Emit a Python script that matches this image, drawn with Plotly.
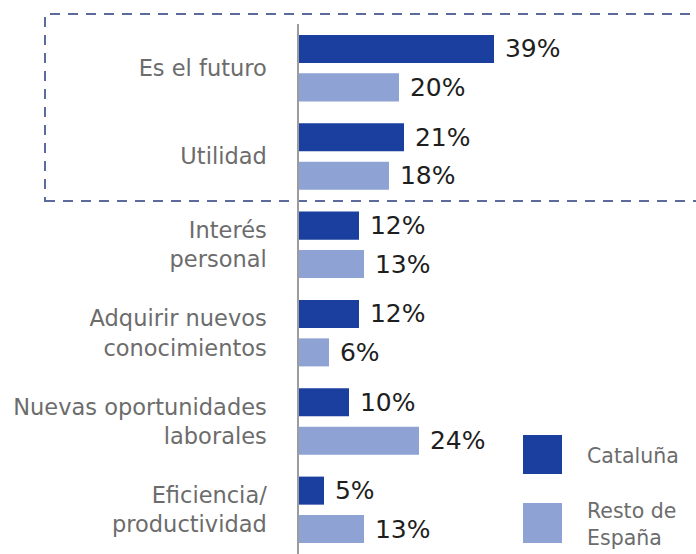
import plotly.graph_objects as go

# Survey reasons, grouped by region
categories = [
    "Es el futuro",
    "Utilidad",
    "Interés<br>personal",
    "Adquirir nuevos<br>conocimientos",
    "Nuevas oportunidades<br>laborales",
    "Eficiencia/<br>productividad",
]
cataluna = [39, 21, 12, 12, 10, 5]
resto_espana = [20, 18, 13, 6, 24, 13]
series_names = ["Cataluña", "Resto de<br>España"]

DARK = "#1b3f9f"
LIGHT = "#8ea2d4"
LABEL_GREY = "#6c6c6c"
VALUE_BLACK = "#1e1e1e"
BOX_COLOR = "#5c6b9c"
FONT = "DejaVu Sans"

W, H = 696, 554
ML, MT, MR, MB = 299, 24, 0, 0


def px_x(px):
    return (px - ML) / (W - ML - MR)


def px_y(py):
    return (H - MB - py) / (H - MT - MB)


fig = go.Figure()
for name, vals, color in [(series_names[0], cataluna, DARK),
                          (series_names[1], resto_espana, LIGHT)]:
    fig.add_trace(go.Bar(
        y=categories,
        x=vals,
        orientation="h",
        name=name,
        marker=dict(color=color, line=dict(width=0)),
        text=[f"\u00a0{v}%" for v in vals],
        textposition="outside",
        constraintext="none",
        cliponaxis=False,
        textfont=dict(family=FONT, size=25, color=VALUE_BLACK),
        showlegend=False,
        hoverinfo="skip",
    ))

shapes = [
    # dashed highlight around the first two reasons
    dict(type="rect", xref="paper", yref="paper",
         x0=px_x(45), x1=px_x(706), y0=px_y(201), y1=px_y(14),
         line=dict(color=BOX_COLOR, width=2, dash="10px,8px"),
         fillcolor="rgba(0,0,0,0)", layer="below"),
    # legend swatches
    dict(type="rect", xref="paper", yref="paper",
         x0=px_x(523), x1=px_x(562), y0=px_y(474), y1=px_y(435),
         fillcolor=DARK, line=dict(width=0)),
    dict(type="rect", xref="paper", yref="paper",
         x0=px_x(523), x1=px_x(562), y0=px_y(543), y1=px_y(503),
         fillcolor=LIGHT, line=dict(width=0)),
]

annotations = [
    dict(text=series_names[0], xref="paper", yref="paper",
         x=px_x(585), y=px_y(456), xanchor="left", yanchor="middle",
         showarrow=False, align="left",
         font=dict(family=FONT, size=20.5, color=LABEL_GREY)),
    dict(text=series_names[1], xref="paper", yref="paper",
         x=px_x(585), y=px_y(524), xanchor="left", yanchor="middle",
         showarrow=False, align="left",
         font=dict(family=FONT, size=20.5, color=LABEL_GREY)),
]

fig.update_layout(
    width=W, height=H,
    margin=dict(l=ML, r=MR, t=MT, b=MB, pad=0),
    paper_bgcolor="white",
    plot_bgcolor="white",
    barmode="group",
    bargap=0.13,
    bargroupgap=0.27,
    showlegend=False,
    shapes=shapes,
    annotations=annotations,
    xaxis=dict(range=[0, 79.4], visible=False, fixedrange=True),
    yaxis=dict(
        autorange="reversed",
        showline=True, linecolor="#9c9c9c", linewidth=1.5,
        showgrid=False, zeroline=False, ticks="",
        ticklabelstandoff=26,
        tickfont=dict(family=FONT, size=22.5, color=LABEL_GREY),
    ),
)

fig.write_html("out.html")
